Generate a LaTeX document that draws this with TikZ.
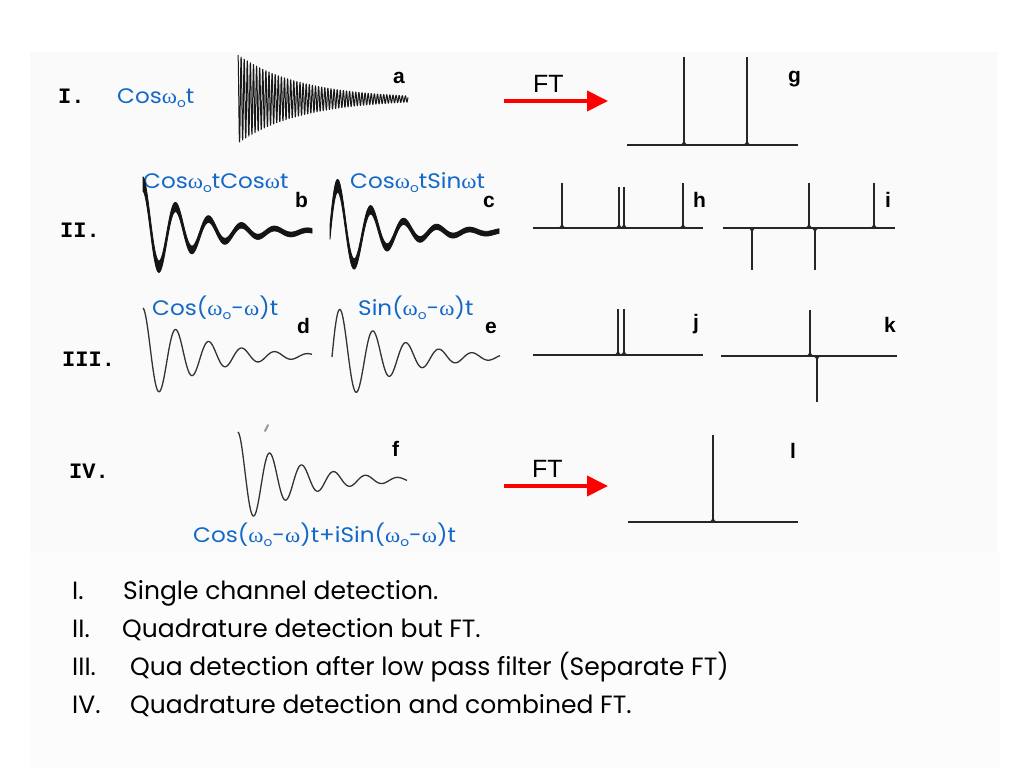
\documentclass[tikz,border=0pt]{standalone}
\usepackage{fontspec}
\setmainfont{Poppins}
\newfontfamily\arialf{Liberation Sans}
\newfontfamily\courf{Liberation Mono}
\newfontfamily\greekf{Liberation Serif}
\usetikzlibrary{arrows.meta}
\definecolor{myblue}{RGB}{20,105,200}
\newcommand\omg{{\greekf ω}}
\newcommand\subo{\raisebox{-0.35ex}{\fontsize{12.5}{12}\selectfont o}}
\newcommand\upk[3]{\draw[spec] (#1,#2) -- (#1,#3); \draw[spec] (#1-5,#2) .. controls (#1-1.5,#2) and (#1,#2-1) .. (#1,#2-7); \draw[spec] (#1+5,#2) .. controls (#1+1.5,#2) and (#1,#2-1) .. (#1,#2-7);}
\newcommand\dnk[3]{\draw[spec] (#1,#2) -- (#1,#3); \draw[spec] (#1-5,#2) .. controls (#1-1.5,#2) and (#1,#2+1) .. (#1,#2+7); \draw[spec] (#1+5,#2) .. controls (#1+1.5,#2) and (#1,#2+1) .. (#1,#2+7);}
\begin{document}
\begin{tikzpicture}[x=1pt,y=-1pt,
  lbl/.style={font=\fontsize{21}{24}\selectfont, text=myblue, inner sep=0pt, anchor=base west, xscale=1.1},
  rom/.style={font=\courf\bfseries\fontsize{22}{24}\selectfont, inner sep=0pt, anchor=base west},
  let/.style={font=\arialf\bfseries\fontsize{21}{24}\selectfont, inner sep=0pt, anchor=base west},
  ftlbl/.style={font=\arialf\fontsize{25}{28}\selectfont, inner sep=0pt, anchor=base west},
  btxt/.style={font=\fontsize{25}{30}\selectfont, inner sep=0pt, anchor=base west},
  fidthick/.style={draw=black!90, line width=1.1pt, line join=round},
  fidband/.style={fill=black!92, draw=black!92, line width=0.8pt, line join=round},
  fidthin/.style={draw=black!80, line width=1.3pt, line join=round},
  spec/.style={draw=black!85, line width=1.1pt},
  ftarrow/.style={draw=red, line width=4pt, -{Triangle[length=21pt,width=20pt]}}
]
\useasboundingbox (0,0) rectangle (1024,768);
\fill[white] (0,0) rectangle (1024,768);
\fill[black!2] (30,52) rectangle (997,552);
\fill[black!1] (30,552) rectangle (1000,768);

% row labels
\node[rom] (r1) at (58,103) {I.};
\node[rom] (r2) at (60,237) {II.};
\node[rom] (r3) at (62,366) {III.};
\node[rom] (r4) at (69,478) {IV.};

% blue labels
\node[lbl] (la) at (117,103) {Cos\omg\subo t};
\node[lbl] (lb) at (143,188) {Cos\omg\subo tCos\omg t};
\node[lbl] (lc) at (350,188) {Cos\omg\subo tSin\omg t};
\node[lbl] (ld) at (152,315) {Cos(\omg\subo-\omg)t};
\node[lbl] (le) at (358,315) {Sin(\omg\subo-\omg)t};
\node[lbl] (lf) at (193,542) {Cos(\omg\subo-\omg)t+iSin(\omg\subo-\omg)t};

% panel letters
\node[let] (ta) at (393,83) {a};
\node[let] (tb) at (295,207) {b};
\node[let] (tc) at (483,207) {c};
\node[let] (td) at (297,333) {d};
\node[let] (te) at (485,333) {e};
\node[let] (tf) at (392,456) {f};
\node[let] (tg) at (788,82) {g};
\node[let] (th) at (693,207) {h};
\node[let] (ti) at (885,207) {i};
\node[let] (tj) at (693,329) {j};
\node[let] (tk) at (884,332) {k};
\node[let] (tl) at (790,458) {l};

% FIDs
\draw[fidthick, line width=1pt] plot[domain=0:170, samples=1100] ({238+\x},{99-44*exp(-\x/64)*cos(360*frac(\x/3.1))});
\filldraw[fidband] plot[domain=0:169, samples=400] ({143+\x},{232-48*exp(-\x/50)*cos(360*frac(\x/33)) - (2.2+5*exp(-\x/45))})
   -- plot[domain=169:0, samples=400] ({143+\x},{232-48*exp(-\x/50)*cos(360*frac(\x/33)) + (2.2+5*exp(-\x/45))}) -- cycle;
\filldraw[fidband] plot[domain=0:169, samples=400] ({330+\x},{232-55*exp(-\x/45)*sin(360*frac(\x/33)) - (2.2+5*exp(-\x/45))})
   -- plot[domain=169:0, samples=400] ({330+\x},{232-55*exp(-\x/45)*sin(360*frac(\x/33)) + (2.2+5*exp(-\x/45))}) -- cycle;
\draw[fidthin] plot[domain=0:169, samples=400] ({143+\x},{356-48*exp(-\x/55)*cos(360*frac(\x/33))});
\draw[fidthin] plot[domain=0:168, samples=400] ({332+\x},{357-55*exp(-\x/55)*sin(360*frac(\x/33))});
\draw[fidthin] plot[domain=0:169, samples=400] ({238+\x},{480-48*exp(-\x/55)*cos(360*frac(\x/32))});
\draw[black!40, line width=2pt, line cap=round] (265,431) -- (268,425);

% spectra g
\draw[spec] (627,145) -- (798,145);
\upk{684}{145}{57}
\upk{747}{145}{57}
% h
\draw[spec] (533,228) -- (703,228);
\upk{562}{228}{183}
\upk{619}{228}{187}
\upk{624}{228}{187}
\upk{683}{228}{183}
% i
\draw[spec] (723,228) -- (895,228);
\dnk{752}{228}{270}
\upk{809}{228}{183}
\dnk{815}{228}{270}
\upk{874}{228}{183}
% j
\draw[spec] (533,355) -- (703,355);
\upk{618}{355}{309}
\upk{624}{355}{309}
% k
\draw[spec] (721,356) -- (897,356);
\upk{810}{356}{310}
\dnk{817}{356}{402}
% l
\draw[spec] (628,522) -- (798,522);
\upk{713}{522}{435}

% FT arrows
\coordinate (ft1s) at (504,101);
\coordinate (ft1e) at (608,101);
\draw[ftarrow] (ft1s) -- (ft1e);
\node[ftlbl] (ft1) at (533,92) {FT};
\coordinate (ft2s) at (504,486);
\coordinate (ft2e) at (608,486);
\draw[ftarrow] (ft2s) -- (ft2e);
\node[ftlbl] (ft2) at (532,477) {FT};

% bottom list
\node[btxt] (n1) at (72,599) {I.};
\node[btxt] (s1) at (123,599) {Single channel detection.};
\node[btxt] (n2) at (72,637) {II.};
\node[btxt] (s2) at (122,637) {Quadrature detection but FT.};
\node[btxt] (n3) at (72,675) {III.};
\node[btxt] (s3) at (130,675) {Qua detection after low pass filter (Separate FT)};
\node[btxt] (n4) at (72,713) {IV.};
\node[btxt] (s4) at (130,713) {Quadrature detection and combined FT.};
\end{tikzpicture}
\end{document}
